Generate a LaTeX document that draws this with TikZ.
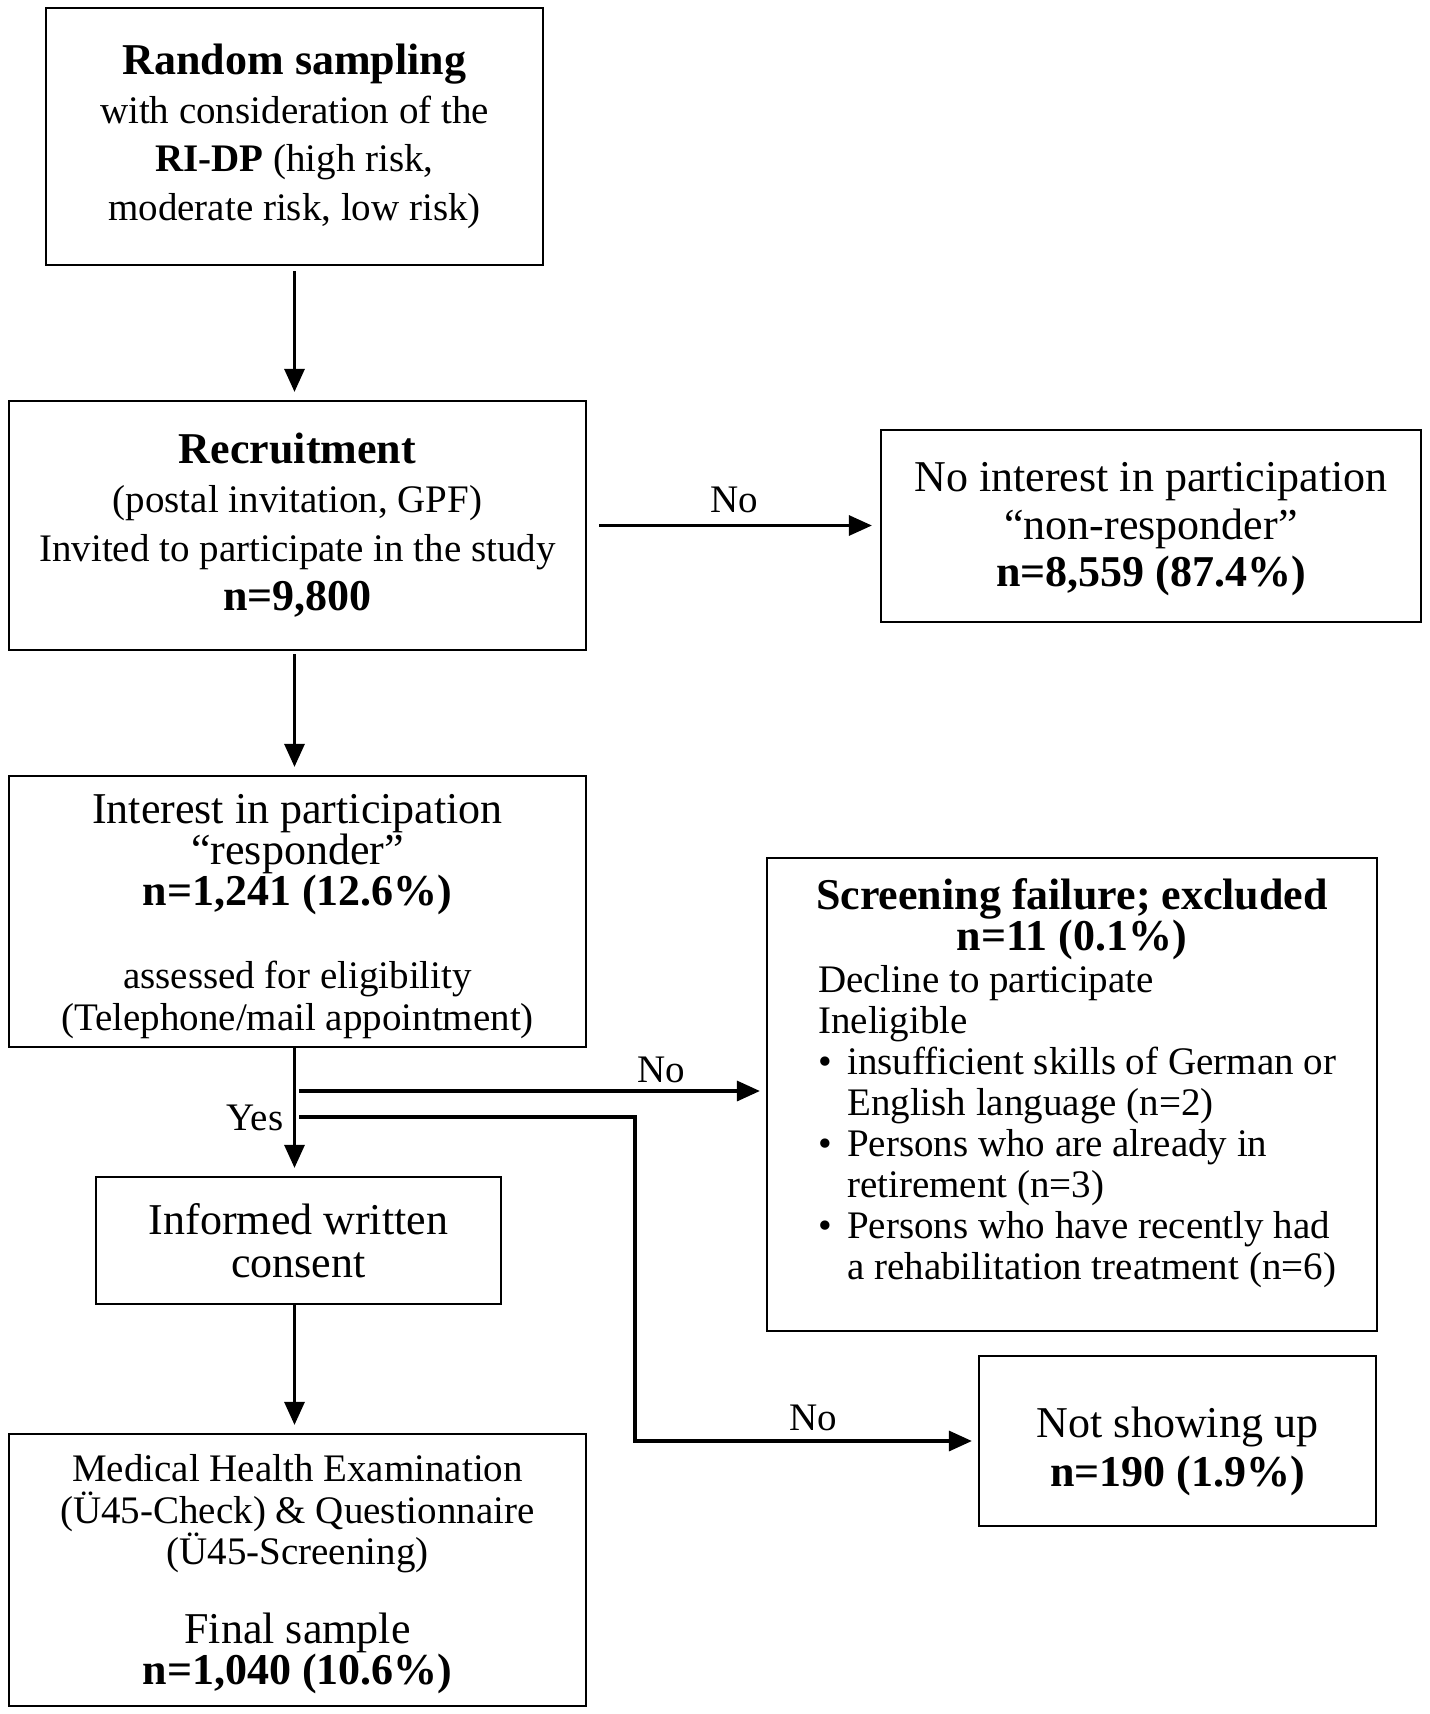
\documentclass[tikz,border=0pt]{standalone}
\usepackage{fontspec}
\setmainfont{Liberation Serif}
\usetikzlibrary{arrows.meta}
\newcommand\fbig{\fontsize{44}{44}\selectfont}
\newcommand\fsml{\fontsize{39}{39}\selectfont}
\newcommand\upstrut[1]{\rule{0pt}{#1pt}}
\begin{document}
\begin{tikzpicture}[x=1pt,y=-1pt,
  box/.style={draw=black,line width=2.2pt,inner sep=0pt,align=center},
  conn/.style={draw=black,line width=3pt,line join=miter,-{Triangle[length=23pt,width=20pt]}},
  lbl/.style={inner sep=0pt,font=\fontsize{39}{39}\selectfont}]
\useasboundingbox (0,0) rectangle (1430,1714);

% boxes
\node[box,minimum width=497pt,minimum height=257pt,font=\fontsize{39}{48.5}\selectfont] (B1) at (294.5,136.5)
  {{\fbig\bfseries Random sampling}\\ with consideration of the\\ \textbf{RI-DP} (high risk,\\ moderate risk, low risk)};
\node[box,minimum width=577pt,minimum height=249pt,font=\fontsize{39}{49}\selectfont] (B2) at (297.5,525.5)
  {{\fbig\bfseries Recruitment}\\ (postal invitation, GPF)\\ Invited to participate in the study\\ {\fbig\bfseries n=9,800}};
\node[box,minimum width=540pt,minimum height=192pt,font=\fontsize{44}{47.5}\selectfont] (B3) at (1151,526)
  {\upstrut{36}No interest in participation\\ “non-responder”\\ \textbf{n=8,559 (87.4\%)}};
\node[box,minimum width=577pt,minimum height=271pt,font=\fontsize{44}{41}\selectfont] (B4) at (297.5,911.5)
  {\upstrut{40}Interest in participation\\ “responder”\\ \textbf{n=1,241 (12.6\%)}\\[42pt] {\fsml assessed for eligibility}\\[1pt] {\fsml (Telephone/mail appointment)}};
\node[box,minimum width=610pt,minimum height=473pt] (B5) at (1072,1094.5) {};
\node[inner sep=0pt,anchor=north,align=center,font=\fontsize{44}{39}\selectfont\bfseries] (B5title) at (1072,878)
  {Screening failure; excluded\\ n=11 (0.1\%)};
\node[inner sep=0pt,anchor=north west,align=left,font=\fontsize{39}{40.9}\selectfont] (B5body) at (818,965.5)
  {Decline to participate\\ Ineligible\\
   \makebox[29pt][l]{•}insufficient skills of German or\\
   \hspace*{29pt}English language (n=2)\\
   \makebox[29pt][l]{•}Persons who are already in\\
   \hspace*{29pt}retirement (n=3)\\
   \makebox[29pt][l]{•}Persons who have recently had\\
   \hspace*{29pt}a rehabilitation treatment (n=6)};
\node[box,minimum width=405pt,minimum height=127pt,font=\fontsize{44}{43.5}\selectfont] (B6) at (298.5,1240.5)
  {Informed written\\ consent};
\node[box,minimum width=577pt,minimum height=272pt,font=\fontsize{39}{41.5}\selectfont] (B7) at (297.5,1570)
  {\upstrut{36}Medical Health Examination\\ (Ü45-Check) \& Questionnaire\\ (Ü45-Screening)\\[37pt] {\fbig Final sample}\\ {\fbig\bfseries n=1,040 (10.6\%)}};
\node[box,minimum width=397pt,minimum height=170pt,font=\fontsize{44}{49}\selectfont] (B8) at (1177.5,1441)
  {\upstrut{52}Not showing up\\ \textbf{n=190 (1.9\%)}};

% connectors
\draw[conn,shorten <=5pt,shorten >=8pt] (B1.south) -- (B1.south |- B2.north);
\draw[conn,shorten <=3pt,shorten >=8pt] (B2.south -| B1.south) -- (B4.north -| B1.south);
\draw[conn,shorten <=12pt,shorten >=8pt] (B2.east) -- (B2.east -| B3.west);
\draw[conn,shorten >=8pt] (B4.south -| B1.south) -- (B6.north -| B1.south);
\draw[conn,shorten >=8pt] (B6.south -| B1.south) -- (B7.north -| B1.south);

\coordinate (s1) at (299,1091);
\coordinate (s2) at (299,1117);
\coordinate (k1) at (635,1441);
\draw[conn,line width=3.3pt,shorten >=6pt] (s1) -- (s1 -| B5.west);
\draw[conn,line width=3.3pt,shorten >=6pt] (s2) -| (k1) -- (k1 -| B8.west);

% labels
\node[lbl,anchor=base] (noA) at (734,512) {No};
\node[lbl,anchor=base] (noB) at (661,1082) {No};
\node[lbl,anchor=base] (yes) at (255,1130) {Yes};
\node[lbl,anchor=base] (noC) at (813,1430) {No};
\end{tikzpicture}
\end{document}
